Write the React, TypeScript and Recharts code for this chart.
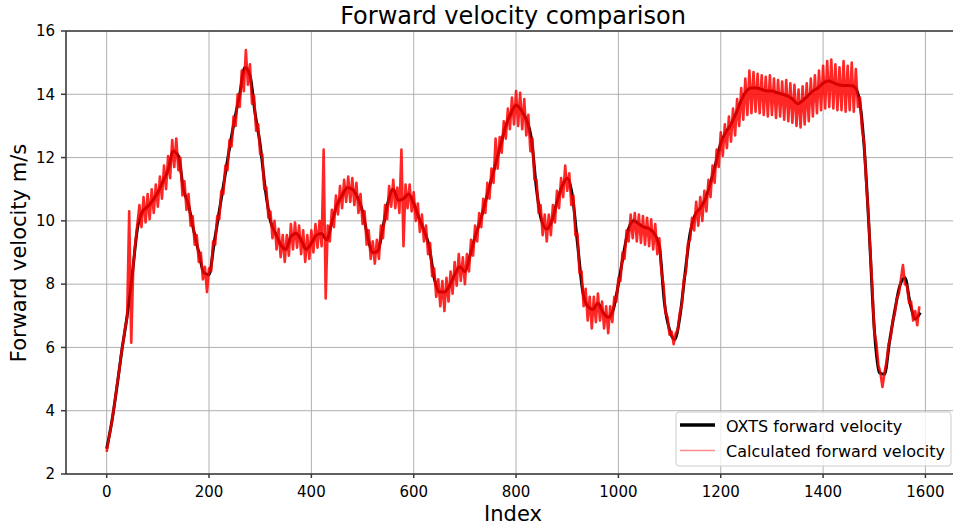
import { LineChart, Line, XAxis, YAxis, CartesianGrid, ReferenceLine } from 'recharts'

// OXTS reference speed, one value every 10 samples (index 0..1590)
const oxtsSpeed = [
  2.8, 3.65, 4.75, 5.95, 7.0, 8.3, 9.75, 10.3, 10.45, 10.65,
  10.9, 11.25, 11.6, 12.2, 12.05, 11.0, 10.5, 9.7, 9.0, 8.35,
  8.3, 9.3, 10.3, 11.3, 12.3, 13.2, 14.0, 14.85, 14.6, 13.4,
  12.4, 11.0, 10.0, 9.6, 9.25, 9.1, 9.5, 9.6, 9.4, 9.1,
  9.3, 9.55, 9.6, 9.4, 9.95, 10.5, 10.8, 11.05, 11.0, 10.75,
  10.3, 9.5, 9.0, 9.05, 9.8, 10.6, 11.0, 10.65, 10.7, 10.85,
  10.55, 10.1, 9.7, 9.2, 8.2, 7.75, 7.75, 7.95, 8.3, 8.55,
  8.4, 8.9, 9.5, 10.0, 10.6, 11.2, 11.8, 12.4, 13.0, 13.4,
  13.65, 13.5, 13.2, 12.6, 11.0, 10.0, 9.75, 10.0, 10.6, 11.1,
  11.35, 10.8, 9.3, 7.8, 7.3, 7.2, 7.4, 7.1, 6.95, 7.2,
  8.0, 8.95, 9.75, 10.0, 9.9, 9.8, 9.75, 9.6, 9.2, 7.4,
  6.55, 6.25, 6.95, 8.3, 9.6, 10.2, 10.4, 10.7, 11.2, 11.8,
  12.45, 12.8, 13.05, 13.4, 13.8, 14.1, 14.2, 14.2, 14.15, 14.1,
  14.1, 14.05, 14.0, 13.95, 13.85, 13.7, 13.8, 13.95, 14.1, 14.2,
  14.35, 14.42, 14.37, 14.3, 14.28, 14.28, 14.25, 13.9, 12.4, 9.7,
  6.6, 5.2, 5.15, 6.2, 7.15, 7.95, 8.2, 7.4, 6.9, 7.1,
]

// calculated speed, one value every 4 samples (index 0..1588), 10 per row
const calcSpeed = [
  2.7, 3.1, 3.45, 3.85, 4.3, 4.8, 5.2, 5.75, 6.15, 6.6,
  6.95, 10.3, 6.15, 8.6, 9.3, 9.9, 10.5, 9.8, 10.75, 9.95,
  10.85, 10.05, 11.0, 10.25, 11.15, 10.45, 11.4, 10.7, 11.75, 11.0,
  12.05, 11.35, 12.55, 11.7, 12.6, 11.6, 12.0, 10.8, 11.25, 10.35,
  10.85, 9.85, 10.15, 9.25, 9.55, 8.7, 9.0, 8.15, 8.55, 7.75,
  8.5, 8.4, 9.35, 9.25, 10.15, 10.05, 10.95, 10.85, 11.75, 11.6,
  12.55, 12.35, 13.3, 13.0, 14.0, 13.6, 14.75, 14.1, 15.4, 14.3,
  14.95, 13.7, 13.95, 12.85, 13.05, 12.1, 12.1, 11.0, 11.05, 10.1,
  10.3, 9.45, 10.0, 9.1, 9.75, 8.85, 9.55, 8.7, 9.55, 8.9,
  9.9, 9.1, 9.95, 9.15, 9.85, 8.95, 9.7, 8.7, 9.55, 8.8,
  9.7, 9.0, 9.9, 9.15, 10.0, 9.2, 12.25, 7.55, 9.85, 9.35,
  10.35, 9.8, 10.8, 10.2, 11.1, 10.4, 11.3, 10.6, 11.4, 10.6,
  11.35, 10.5, 11.2, 10.25, 10.85, 9.9, 10.3, 9.25, 9.7, 8.8,
  9.35, 8.65, 9.4, 8.8, 9.85, 9.45, 10.5, 10.05, 11.1, 10.45,
  11.3, 10.4, 11.05, 10.25, 12.25, 9.2, 11.15, 10.4, 11.15, 10.3,
  10.9, 10.0, 10.55, 9.65, 10.2, 9.35, 9.85, 8.95, 9.3, 8.25,
  8.5, 7.6, 8.15, 7.3, 8.1, 7.15, 8.2, 7.45, 8.4, 7.7,
  8.7, 7.95, 8.95, 8.1, 8.85, 8.0, 8.95, 8.4, 9.4, 8.9,
  9.85, 9.35, 10.25, 9.8, 10.7, 10.25, 11.2, 10.7, 11.65, 11.2,
  12.6, 11.65, 12.65, 12.15, 13.15, 12.6, 13.55, 12.9, 13.9, 13.05,
  14.1, 13.0, 14.05, 12.9, 13.85, 12.7, 13.35, 12.2, 12.6, 11.3,
  11.3, 10.25, 10.5, 9.55, 10.2, 9.35, 10.2, 9.55, 10.5, 9.95,
  10.95, 10.4, 11.35, 10.75, 11.75, 10.95, 11.5, 10.5, 10.8, 9.55,
  9.6, 8.35, 8.4, 7.3, 7.85, 6.85, 7.6, 6.6, 7.6, 6.8,
  7.7, 6.85, 7.45, 6.6, 7.3, 6.45, 7.3, 6.8, 7.6, 7.45,
  8.2, 8.1, 9.0, 8.8, 9.7, 9.35, 10.2, 9.45, 10.25, 9.35,
  10.2, 9.3, 10.15, 9.25, 10.1, 9.2, 10.05, 9.1, 9.9, 8.95,
  9.45, 8.4, 8.0, 7.1, 6.95, 6.4, 6.5, 6.1, 6.45, 6.55,
  7.1, 7.35, 8.15, 8.4, 9.3, 9.4, 10.1, 9.7, 10.6, 9.85,
  10.75, 10.0, 10.95, 10.3, 11.3, 10.75, 11.75, 11.2, 12.25, 11.7,
  12.8, 12.05, 13.05, 12.3, 13.3, 12.5, 13.55, 12.7, 13.85, 13.0,
  14.2, 13.2, 14.5, 13.35, 14.75, 13.4, 14.7, 13.45, 14.65, 13.4,
  14.6, 13.35, 14.55, 13.3, 14.6, 13.35, 14.5, 13.25, 14.45, 13.3,
  14.4, 13.2, 14.45, 13.15, 14.35, 13.1, 14.3, 13.0, 14.15, 12.95,
  14.25, 13.05, 14.35, 13.15, 14.5, 13.3, 14.6, 13.4, 14.75, 13.5,
  14.9, 13.55, 15.05, 13.6, 15.1, 13.55, 14.95, 13.5, 14.85, 13.5,
  15.05, 13.45, 14.9, 13.5, 15.0, 13.45, 14.8, 13.6, 13.9, 12.9,
  12.5, 11.3, 10.35, 9.1, 7.95, 6.5, 6.15, 5.45, 5.2, 4.75,
  5.2, 5.55, 6.1, 6.3, 6.85, 7.05, 7.55, 7.7, 8.15, 8.6,
  8.0, 7.95, 7.4, 7.45, 6.85, 7.15, 6.7, 7.3,
]

const xTicks = [0, 200, 400, 600, 800, 1000, 1200, 1400, 1600]
const yTicks = [2, 4, 6, 8, 10, 12, 14, 16]

const oxtsData = oxtsSpeed.map((v, i) => ({ idx: i * 10, v }))
const calcData = calcSpeed.map((v, i) => ({ idx: i * 4, v }))

const FONT = '"DejaVu Sans", sans-serif'
const SPINE = '#3a3a3a'

export default function App() {
  return (
    <div
      style={{
        position: 'absolute',
        left: 0,
        top: 0,
        width: 953,
        height: 529,
        overflow: 'hidden',
        background: '#fff',
        fontFamily: FONT,
      }}
    >
      <LineChart
        width={975}
        height={529}
        margin={{ top: 31, right: 14, bottom: 0, left: 0 }}
      >
        <CartesianGrid stroke="#b0b0b0" strokeWidth={1} />
        <XAxis
          dataKey="idx"
          type="number"
          domain={[-79.5, 1669.5]}
          ticks={xTicks}
          allowDataOverflow
          height={55}
          stroke={SPINE}
          strokeWidth={1.5}
          tickSize={4}
          tickMargin={8}
          tick={{ fill: '#000', fontSize: 15, fontFamily: FONT }}
        />
        <YAxis
          type="number"
          domain={[2, 16]}
          ticks={yTicks}
          allowDataOverflow
          width={66}
          stroke={SPINE}
          strokeWidth={1.5}
          tickSize={5}
          tickMargin={6}
          tick={{ fill: '#000', fontSize: 15, fontFamily: FONT }}
        />
        <ReferenceLine y={16} stroke={SPINE} strokeWidth={1.5} />
        <Line
          data={oxtsData}
          dataKey="v"
          type="monotone"
          stroke="#000"
          strokeWidth={3}
          dot={false}
          activeDot={false}
          isAnimationActive={false}
        />
        <Line
          data={calcData}
          dataKey="v"
          type="linear"
          stroke="#ff0000"
          strokeOpacity={0.85}
          strokeWidth={2.6}
          strokeLinejoin="round"
          dot={false}
          activeDot={false}
          isAnimationActive={false}
        />
      </LineChart>

      <svg
        width={953}
        height={529}
        style={{ position: 'absolute', left: 0, top: 0, pointerEvents: 'none' }}
        fontFamily={FONT}
      >
        <text x={513} y={24} textAnchor="middle" fontSize={24} fill="#000">
          Forward velocity comparison
        </text>
        <text x={513} y={521} textAnchor="middle" fontSize={21} fill="#000">
          Index
        </text>
        <text
          x={0}
          y={0}
          transform="translate(25.5 253) rotate(-90)"
          textAnchor="middle"
          fontSize={21}
          fill="#000"
        >
          Forward velocity m/s
        </text>

        {/* legend */}
        <rect x={676} y={412} width={275} height={54} rx={3} fill="#fff" fillOpacity={0.8} stroke="#cccccc" />
        <line x1={680} y1={425} x2={715} y2={425} stroke="#000" strokeWidth={3.5} />
        <text x={726} y={432} fontSize={16} fill="#000">OXTS forward velocity</text>
        <line x1={680} y1={450.5} x2={715} y2={450.5} stroke="#ff0000" strokeOpacity={0.45} strokeWidth={1.5} />
        <text x={726} y={457} fontSize={16} fill="#000">Calculated forward velocity</text>
      </svg>
    </div>
  )
}
